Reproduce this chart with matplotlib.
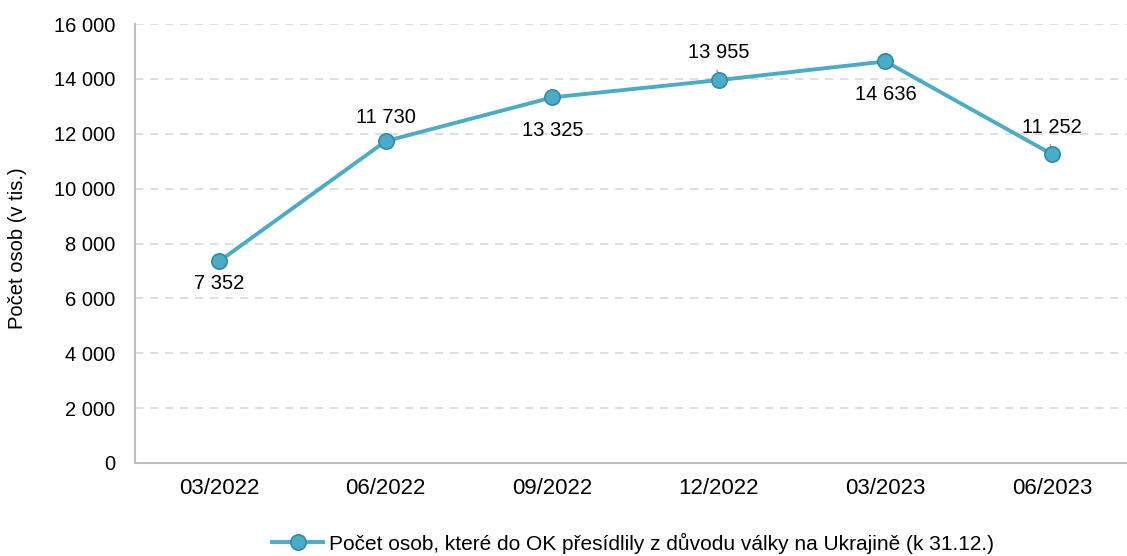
import matplotlib
matplotlib.use("Agg")
import matplotlib.pyplot as plt
import numpy as np

# data
categories = ["03/2022", "06/2022", "09/2022", "12/2022", "03/2023", "06/2023"]
values = [7352, 11730, 13325, 13955, 14636, 11252]
label_offsets = [-22, 24, -33, 28, -33, 27]  # px, + above / - below
y_ticks = [0, 2000, 4000, 6000, 8000, 10000, 12000, 14000, 16000]
series_name = "Počet osob, které do OK přesídlily z důvodu války na Ukrajině (k 31.12.)"
y_title = "Počet osob (v tis.)"

LINE_CLR = "#4BACC6"
EDGE_CLR = "#2E8CA8"
FS = 14.5

plt.rcParams["font.family"] = ["Liberation Sans", "DejaVu Sans"]

def fmt(v):
    return f"{v:,}".replace(",", " ")

fig = plt.figure(figsize=(11.27, 5.56), dpi=100)
ax = fig.add_axes([135 / 1127, 1 - 463 / 556, 1 - 135 / 1127, (463 - 24) / 556])

x = np.arange(len(categories))
line, = ax.plot(x, values, color=LINE_CLR, lw=2.8, marker="o", markersize=11,
                markerfacecolor=LINE_CLR, markeredgecolor=EDGE_CLR, markeredgewidth=1.2,
                zorder=3, label=series_name)

for xi, v, off in zip(x, values, label_offsets):
    ax.annotate(fmt(v), (xi, v), xytext=(0, off * 0.72), textcoords="offset points",
                ha="center", va="center", fontsize=FS, color="black", zorder=4)

# small leader lines
for idx in (3, 5):
    ax.annotate("", (x[idx], values[idx]), xytext=(-1.5, 9), textcoords="offset points",
                arrowprops=dict(arrowstyle="-", color="#A6A6A6", lw=1.2), zorder=2)

ax.set_xlim(-0.505, 5.45)
ax.set_ylim(0, 16000)
ax.set_xticks(x)
ax.set_xticklabels(categories, fontsize=16)
ax.set_yticks(y_ticks)
ax.set_yticklabels([fmt(t) for t in y_ticks], fontsize=FS)
ax.tick_params(axis="both", length=0)
ax.tick_params(axis="x", pad=11)
ax.tick_params(axis="y", pad=14)

ax.yaxis.grid(True, color="#D9D9D9", linestyle=(0, (5, 4)), lw=1.2)
ax.set_axisbelow(True)
for s in ("top", "right"):
    ax.spines[s].set_visible(False)
for s in ("left", "bottom"):
    ax.spines[s].set_color("#BFBFBF")
    ax.spines[s].set_linewidth(1.5)

fig.text(18 / 1127, 1 - 248 / 556, y_title, rotation=90, ha="center", va="center", fontsize=FS)

fig.legend(handles=[line], loc="center", bbox_to_anchor=(633 / 1127, 1 - 543 / 556),
           frameon=False, fontsize=15, handlelength=2.45, handletextpad=0.25,
           borderpad=0, borderaxespad=0)

fig.savefig("out.png", dpi=100)
